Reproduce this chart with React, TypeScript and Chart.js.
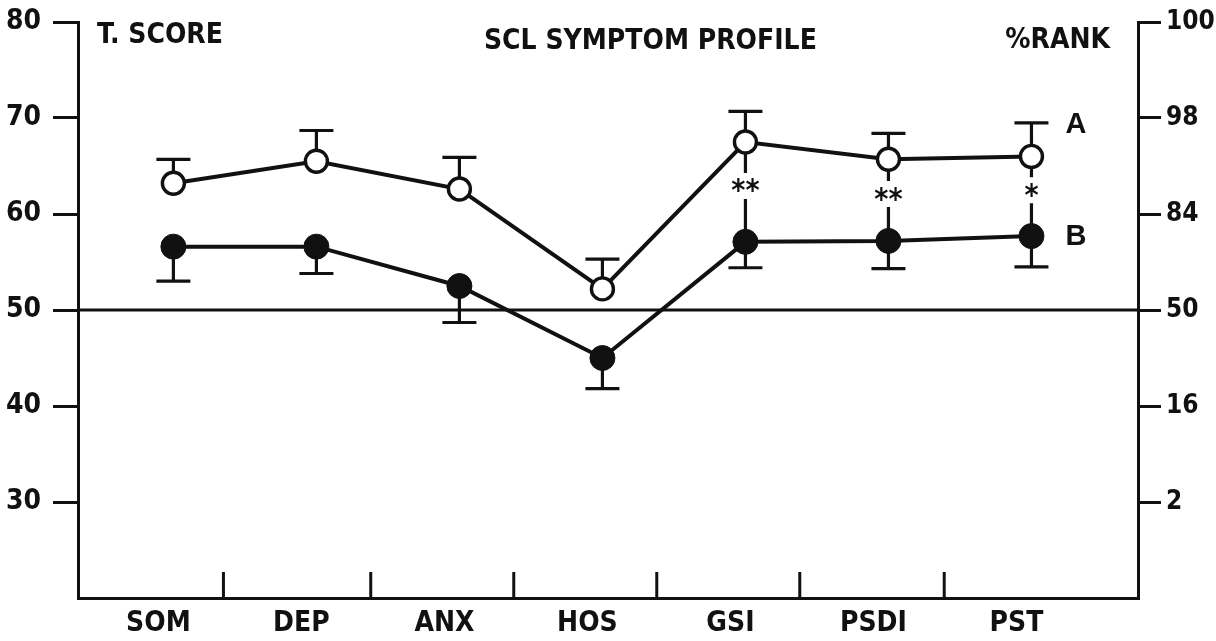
import React, { useEffect, useRef } from "react";
import { Chart, registerables } from "chart.js";

Chart.register(...registerables);

// ---- data ----
const categories = ["SOM", "DEP", "ANX", "HOS", "GSI", "PSDI", "PST"];
const seriesA = [63.2, 65.5, 62.6, 52.2, 67.5, 65.7, 66.0];
const seriesAUpper = [65.7, 68.7, 65.9, 55.3, 70.7, 68.4, 69.5];
const seriesB = [56.6, 56.6, 52.5, 45.0, 57.1, 57.2, 57.7];
const seriesBLower = [53.0, 53.8, 48.7, 41.8, 54.4, 54.3, 54.5];
const significance = ["", "", "", "", "**", "**", "*"];
const tScoreTicks = [30, 40, 50, 60, 70, 80];
const rankTickValues = [30, 40, 50, 60, 70, 80];
const rankTickLabels = ["2", "16", "50", "84", "98", "100"];
const separatorTicks = [0.35, 1.38, 2.38, 3.38, 4.38, 5.39];
const referenceT = 50;
const seriesNames = ["A", "B"];
const titleText = "SCL SYMPTOM PROFILE";
const leftAxisTitle = "T. SCORE";
const rightAxisTitle = "%RANK";

const INK = "#111111";
const FONT = "'DejaVu Sans Condensed', 'Liberation Sans Narrow', 'DejaVu Sans', sans-serif";
const SANS = "'Liberation Sans', Arial, sans-serif";

const overlayPlugin = {
  id: "overlay",
  beforeDatasetsDraw(chart: any) {
    const ctx = chart.ctx as CanvasRenderingContext2D;
    const xs = chart.scales.x;
    const ys = chart.scales.y;
    const area = chart.chartArea;
    ctx.save();
    ctx.strokeStyle = INK;
    ctx.fillStyle = INK;
    ctx.lineCap = "butt";

    // reference line at T = 50
    ctx.lineWidth = 3;
    const y50 = ys.getPixelForValue(referenceT);
    ctx.beginPath();
    ctx.moveTo(area.left, y50);
    ctx.lineTo(area.right, y50);
    ctx.stroke();

    // separator ticks on x axis (drawn inward)
    separatorTicks.forEach((v) => {
      const px = xs.getPixelForValue(v);
      ctx.beginPath();
      ctx.moveTo(px, area.bottom);
      ctx.lineTo(px, area.bottom - 26);
      ctx.stroke();
    });

    // error bars
    const capHalf = 17;
    const drawBar = (i: number, from: number, to: number) => {
      const px = xs.getPixelForValue(i);
      const p1 = ys.getPixelForValue(from);
      const p2 = ys.getPixelForValue(to);
      ctx.lineWidth = 3.2;
      ctx.beginPath();
      ctx.moveTo(px, p1);
      ctx.lineTo(px, p2);
      ctx.stroke();
      ctx.beginPath();
      ctx.moveTo(px - capHalf, p2);
      ctx.lineTo(px + capHalf, p2);
      ctx.stroke();
    };
    categories.forEach((_, i) => {
      drawBar(i, seriesA[i], seriesAUpper[i]);
      drawBar(i, seriesB[i], seriesBLower[i]);
    });

    // significance connectors
    significance.forEach((s, i) => {
      if (!s) return;
      const px = xs.getPixelForValue(i);
      const pa = ys.getPixelForValue(seriesA[i]);
      const pb = ys.getPixelForValue(seriesB[i]);
      const mid = (pa + pb) / 2 - 6;
      ctx.lineWidth = 3.2;
      ctx.beginPath();
      ctx.moveTo(px, pa);
      ctx.lineTo(px, mid - 13);
      ctx.moveTo(px, mid + 13);
      ctx.lineTo(px, pb);
      ctx.stroke();
      ctx.font = `bold 30px ${FONT}`;
      ctx.textAlign = "center";
      ctx.textBaseline = "alphabetic";
      const m = ctx.measureText(s);
      const base = mid + (m.actualBoundingBoxAscent - m.actualBoundingBoxDescent) / 2;
      ctx.fillStyle = INK;
      ctx.fillText(s, px, base);
    });
    ctx.restore();
  },
  afterDraw(chart: any) {
    const ctx = chart.ctx as CanvasRenderingContext2D;
    const xs = chart.scales.x;
    const ys = chart.scales.y;
    const area = chart.chartArea;
    ctx.save();
    ctx.fillStyle = INK;
    ctx.textBaseline = "middle";

    ctx.font = `bold 28px ${FONT}`;
    ctx.textAlign = "left";
    ctx.fillText(leftAxisTitle, area.left + 19, area.top + 14);

    ctx.textAlign = "center";
    ctx.fillText(titleText, area.left + (area.right - area.left) * 0.54, area.top + 20);

    ctx.textAlign = "right";
    ctx.fillText(rightAxisTitle, area.right - 28, area.top + 19);

    // series labels next to last points
    const last = categories.length - 1;
    const px = xs.getPixelForValue(last) + 34;
    ctx.font = `bold 29px ${SANS}`;
    ctx.textAlign = "left";
    ctx.fillText(seriesNames[0], px, ys.getPixelForValue(seriesAUpper[last]) + 2);
    ctx.fillText(seriesNames[1], px, ys.getPixelForValue(seriesB[last]) + 1);
    ctx.restore();
  },
};

const noVerticalPadding = (scale: any) => {
  scale.width = 78;
  scale.paddingTop = 0;
  scale.paddingBottom = 0;
};

export default function App() {
  const canvasRef = useRef<HTMLCanvasElement | null>(null);

  useEffect(() => {
    document.body.style.margin = "0";
    const canvas = canvasRef.current;
    if (!canvas) return;
    const chart = new Chart(canvas, {
      type: "line",
      data: {
        datasets: [
          {
            label: seriesNames[0],
            data: categories.map((_, i) => ({ x: i, y: seriesA[i] })),
            borderColor: INK,
            borderWidth: 4,
            pointRadius: 11,
            pointBorderWidth: 3.4,
            pointBackgroundColor: "#ffffff",
            pointBorderColor: INK,
            tension: 0,
          },
          {
            label: seriesNames[1],
            data: categories.map((_, i) => ({ x: i, y: seriesB[i] })),
            borderColor: INK,
            borderWidth: 4,
            pointRadius: 12.5,
            pointBorderWidth: 1,
            pointBackgroundColor: INK,
            pointBorderColor: INK,
            tension: 0,
          },
        ],
      },
      options: {
        animation: false,
        responsive: false,
        maintainAspectRatio: false,
        devicePixelRatio: 1,
        layout: { padding: { top: 22, left: 0, right: 0, bottom: 0 } },
        plugins: {
          legend: { display: false },
          tooltip: { enabled: false },
          title: { display: false },
        },
        scales: {
          x: {
            type: "linear",
            position: "bottom",
            min: -0.667,
            max: 6.745,
            afterBuildTicks: (scale: any) => {
              scale.ticks = categories.map((_, i) => ({ value: i }));
            },
            afterFit: (scale: any) => {
              scale.height = 43;
              scale.paddingLeft = 0;
              scale.paddingRight = 0;
            },
            ticks: {
              callback: (v: any) => categories[Math.round(Number(v))] ?? "",
              color: INK,
              font: { family: FONT, size: 28, weight: "bold" },
              padding: 9,
              labelOffset: -15,
              maxRotation: 0,
              autoSkip: false,
            },
            grid: { display: false, drawOnChartArea: false, drawTicks: false },
            border: { display: true, width: 3, color: INK },
          },
          y: {
            type: "linear",
            position: "left",
            min: 20,
            max: 80,
            afterBuildTicks: (scale: any) => {
              scale.ticks = tScoreTicks.map((v) => ({ value: v }));
            },
            afterFit: noVerticalPadding,
            ticks: {
              color: INK,
              font: { family: FONT, size: 28, weight: "bold" },
              padding: 12,
            },
            grid: {
              display: true,
              drawOnChartArea: false,
              drawTicks: true,
              tickLength: 25,
              lineWidth: 3,
              color: INK,
            },
            border: { display: true, width: 3, color: INK },
          },
          rank: {
            type: "linear",
            position: "right",
            min: 20,
            max: 80,
            afterBuildTicks: (scale: any) => {
              scale.ticks = rankTickValues.map((v) => ({ value: v }));
            },
            afterFit: noVerticalPadding,
            ticks: {
              color: INK,
              font: { family: FONT, size: 26, weight: "bold" },
              padding: 5,
              callback: (v: any) => {
                const idx = rankTickValues.indexOf(Number(v));
                return idx >= 0 ? rankTickLabels[idx] : "";
              },
            },
            grid: {
              display: true,
              drawOnChartArea: false,
              drawTicks: true,
              tickLength: 23,
              lineWidth: 3,
              color: INK,
            },
            border: { display: true, width: 3, color: INK },
          },
        },
      },
      plugins: [overlayPlugin],
    } as any);
    return () => chart.destroy();
  }, []);

  return (
    <div
      style={{
        position: "fixed",
        left: 0,
        top: 0,
        width: 1216,
        height: 641,
        background: "#ffffff",
      }}
    >
      <canvas ref={canvasRef} width={1216} height={641} style={{ display: "block" }} />
    </div>
  );
}
